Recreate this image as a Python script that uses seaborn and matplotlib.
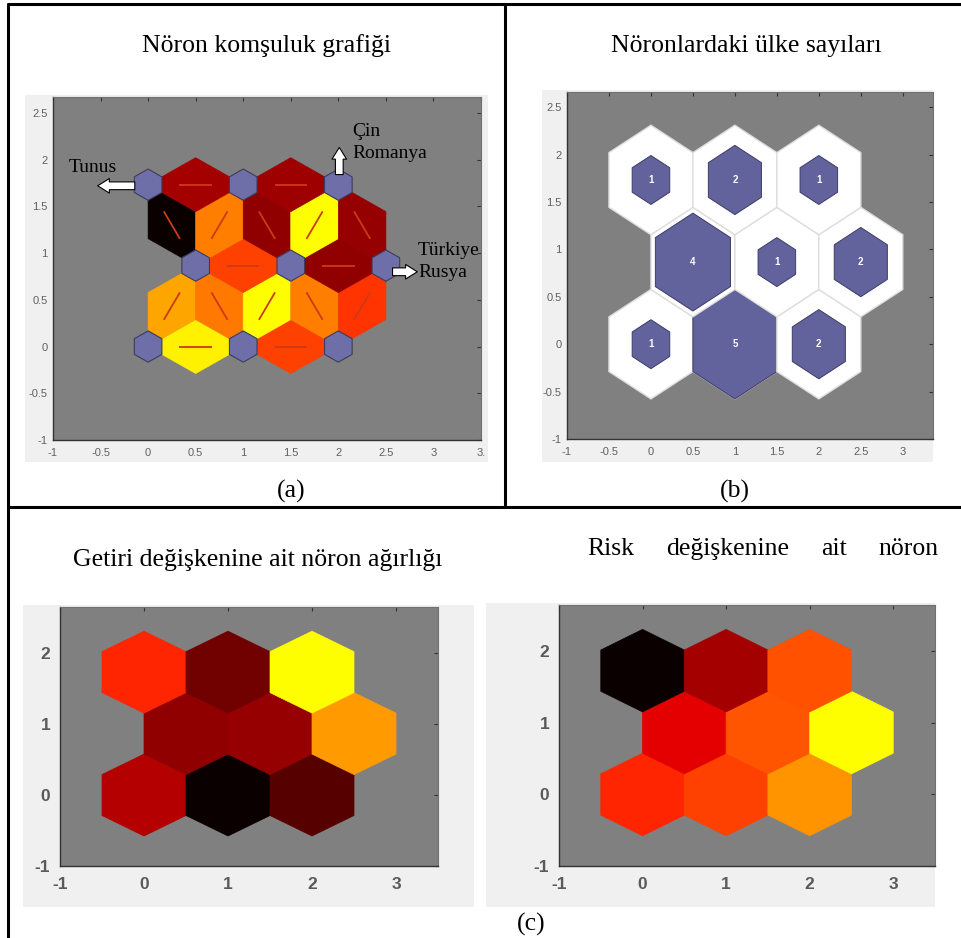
import numpy as np
import matplotlib.pyplot as plt
from matplotlib.patches import Polygon, Rectangle
from matplotlib.lines import Line2D
from matplotlib.colors import ListedColormap
import seaborn as sns

W, H = 962, 938

# 3x3 hextop SOM grid (neuron centres)
neuron_x = [0, 1, 2, 0.5, 1.5, 2.5, 0, 1, 2]
neuron_y = [0, 0, 0, 0.866, 0.866, 0.866, 1.732, 1.732, 1.732]

# (a) neighbour links: neuron pairs and colour level (0 = black ... 1 = yellow)
link_from = [0, 1, 0, 1, 1, 2, 2, 3, 4, 3, 3, 4, 4, 5, 6, 7]
link_to = [1, 2, 3, 3, 4, 4, 5, 4, 5, 6, 7, 7, 8, 8, 7, 8]
link_level = [0.97, 0.62, 0.82, 0.73, 1.0, 0.74, 0.59, 0.62, 0.27, 0.0, 0.74, 0.27, 1.0, 0.28, 0.31, 0.30]

# (b) hits per neuron
hits = [1, 5, 2, 4, 1, 2, 1, 2, 1]

# (c) weight planes, colour level per neuron
getiri_level = [0.34, 0.0, 0.16, 0.27, 0.28, 0.80, 0.56, 0.21, 1.0]
risk_level = [0.56, 0.62, 0.78, 0.44, 0.66, 1.0, 0.0, 0.31, 0.65]

sns.set_theme(style='white')
plt.rcParams['font.family'] = ['Liberation Sans', 'DejaVu Sans']
serif = ['Liberation Serif', 'DejaVu Serif']

hot = sns.color_palette('hot', as_cmap=True)
somcmap = ListedColormap(hot(np.linspace(0, 0.746, 256)))

fig = plt.figure(figsize=(W / 100, H / 100), dpi=100)


def fx(x):
    return x / W


def fy(y):
    return 1 - y / H


def px_axes(l, t, r, b):
    return fig.add_axes([fx(l), fy(b), (r - l) / W, (b - t) / H])


def backdrop(l, t, r, b):
    fig.add_artist(Rectangle((fx(l), fy(b)), (r - l) / W, (b - t) / H, transform=fig.transFigure,
                             fc='#f0f0f0', ec='none', zorder=-5))


def hexagon(cx, cy, ap):
    rad = ap / np.cos(np.pi / 6)
    ang = np.radians([30, 90, 150, 210, 270, 330])
    return np.column_stack([cx + rad * np.cos(ang), cy + rad * np.sin(ang)])


def link_shape(p, q, ap):
    p = np.array(p)
    u = np.array(q) - p
    v = np.array([-u[1], u[0]])
    s = ap * np.tan(np.pi / 6)
    h = 0.5 / np.sqrt(3)
    local = [(ap, s), (0.5, h), (1 - ap, s), (1 - ap, -s), (0.5, -h), (ap, -s)]
    return np.array([p + t * u + w * v for t, w in local])


def style_axes(ax, xlim, ylim, xticks, xlabels, yticks, ylabels, size, weight, color, xpad, ypad):
    ax.set_facecolor('#808080')
    ax.set_xlim(*xlim)
    ax.set_ylim(*ylim)
    ax.set_xticks(xticks)
    ax.set_xticklabels(xlabels)
    ax.set_yticks(yticks)
    ax.set_yticklabels(ylabels)
    ax.tick_params(direction='in', length=3, width=0.8, color='#333333', top=True, right=True,
                   labelsize=size, labelcolor=color)
    ax.tick_params(axis='x', pad=xpad)
    ax.tick_params(axis='y', pad=ypad)
    for lab in ax.get_xticklabels() + ax.get_yticklabels():
        lab.set_fontweight(weight)
    for side in ['bottom', 'left']:
        ax.spines[side].set_color('#333333')
        ax.spines[side].set_linewidth(1.0)
    for side in ['top', 'right']:
        ax.spines[side].set_color('#707070')
        ax.spines[side].set_linewidth(0.8)
    ax.grid(False)


half_ticks = [-1, -0.5, 0, 0.5, 1, 1.5, 2, 2.5, 3]
half_labels = ['-1', '-0.5', '0', '0.5', '1', '1.5', '2', '2.5', '3']

# ---------- (a) neighbour distances ----------
backdrop(25, 95, 488, 462)
ax = px_axes(53, 97, 481, 440)
style_axes(ax, (-1, 3.5), (-1, 2.67), half_ticks + [3.5], half_labels + ['3.'],
           half_ticks[:-1], half_labels[:-1], 8, 'normal', '#606060', 6, 4)
for a, b, lev in zip(link_from, link_to, link_level):
    p = (neuron_x[a], neuron_y[a])
    q = (neuron_x[b], neuron_y[b])
    ax.add_patch(Polygon(link_shape(p, q, 0.145), closed=True, fc=somcmap(lev), ec=somcmap(lev), lw=0.5))
    ax.plot([p[0] + 0.33 * (q[0] - p[0]), p[0] + 0.67 * (q[0] - p[0])],
            [p[1] + 0.33 * (q[1] - p[1]), p[1] + 0.67 * (q[1] - p[1])],
            color='#cc3a18', lw=1.3, solid_capstyle='butt')
for x, y in zip(neuron_x, neuron_y):
    ax.add_patch(Polygon(hexagon(x, y, 0.145), closed=True, fc='#6e6ea8', ec='#3c3c5c', lw=0.8))

arrow = dict(arrowstyle='simple,head_length=0.6,head_width=0.75,tail_width=0.4',
             fc='white', ec='black', lw=0.8, shrinkA=0, shrinkB=0, mutation_scale=14)
ax.annotate('', xy=(-0.53, 1.72), xytext=(-0.14, 1.72), arrowprops=arrow)
ax.annotate('', xy=(2.01, 2.13), xytext=(2.01, 1.84), arrowprops=arrow)
ax.annotate('', xy=(2.83, 0.80), xytext=(2.57, 0.80), arrowprops=arrow)
ax.text(-0.58, 1.92, 'Tunus', ha='center', va='center', family=serif, fontsize=14, color='black')
ax.text(2.15, 2.30, 'Çin', ha='left', va='center', family=serif, fontsize=14, color='black')
ax.text(2.15, 2.07, 'Romanya', ha='left', va='center', family=serif, fontsize=14, color='black')
ax.text(2.83, 1.03, 'Türkiye', ha='left', va='center', family=serif, fontsize=14, color='black')
ax.text(2.84, 0.79, 'Rusya', ha='left', va='center', family=serif, fontsize=14, color='black')

# ---------- (b) hits ----------
backdrop(542, 90, 933, 462)
ax = px_axes(567, 92, 933, 439)
style_axes(ax, (-1, 3.36), (-1, 2.66), half_ticks, half_labels,
           half_ticks[:-1], half_labels[:-1], 8, 'normal', '#606060', 6, 4)
top_hits = max(hits)
for x, y, n in zip(neuron_x, neuron_y, hits):
    ax.add_patch(Polygon(hexagon(x, y, 0.5), closed=True, fc='white', ec='#dedede', lw=1.0))
    ax.add_patch(Polygon(hexagon(x, y, 0.5 * np.sqrt(n / top_hits)), closed=True,
                         fc='#62629c', ec='#3c3c66', lw=0.7))
    ax.text(x, y, str(n), ha='center', va='center', color='white', fontsize=7, fontweight='bold')

# ---------- (c) weight planes ----------
int_ticks = [-1, 0, 1, 2, 3]
int_labels = ['-1', '0', '1', '2', '3']
for (l, t, r, b), (bl, br), levels in [((60, 607, 438, 866), (23, 474), getiri_level),
                                       ((559, 605, 935, 866), (486, 935), risk_level)]:
    backdrop(bl, t - 2, br, 907)
    ax = px_axes(l, t, r, b)
    style_axes(ax, (-1, 3.5), (-1, 2.65), int_ticks, int_labels, int_ticks[:-1], int_labels[:-1],
               12.5, 'bold', '#5a5a5a', 8, 7)
    for x, y, lev in zip(neuron_x, neuron_y, levels):
        ax.add_patch(Polygon(hexagon(x, y, 0.5), closed=True, fc=somcmap(lev), ec=somcmap(lev), lw=0.5))

# ---------- table frame and captions ----------
for xs, ys in [((8, 962), (4, 4)), ((8, 8), (4, 938)), ((505, 505), (4, 507)), ((8, 962), (507, 507))]:
    fig.add_artist(Line2D([fx(v) for v in xs], [fy(v) for v in ys], transform=fig.transFigure,
                          color='black', lw=2.2, zorder=10))

cap = dict(ha='center', va='baseline', fontsize=18.5, family=serif, color='black')
fig.text(fx(266), fy(52), 'Nöron komşuluk grafiği', **cap)
fig.text(fx(746), fy(52), 'Nöronlardaki ülke sayıları', **cap)
fig.text(fx(258), fy(566), 'Getiri değişkenine ait nöron ağırlığı', **cap)
for word, x in zip(['Risk', 'değişkenine', 'ait', 'nöron'], [587, 666, 821, 878]):
    fig.text(fx(x), fy(555), word, ha='left', va='baseline', fontsize=18.5, family=serif, color='black')
fig.text(fx(291), fy(498), '(a)', **cap)
fig.text(fx(735), fy(498), '(b)', **cap)
fig.text(fx(531), fy(931), '(c)', **cap)

fig.savefig('out.png', dpi=100, facecolor='white')
